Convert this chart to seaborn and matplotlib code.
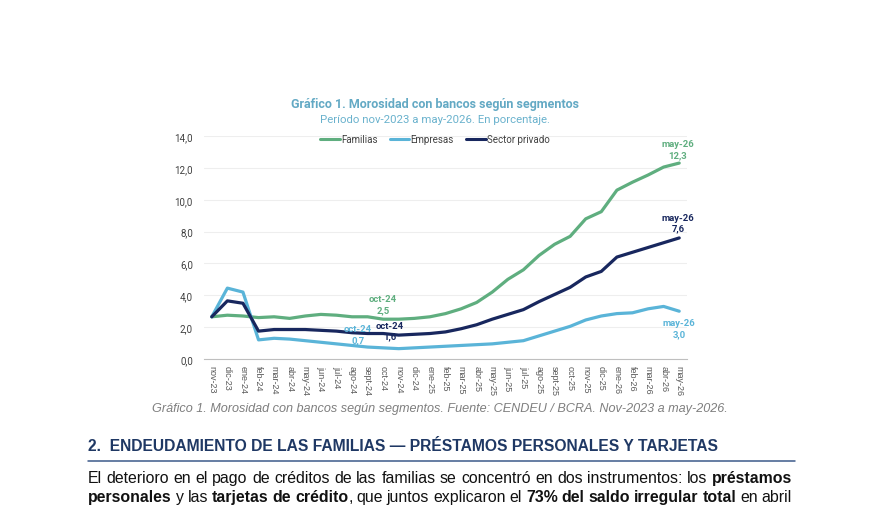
import matplotlib
matplotlib.use("Agg")
import matplotlib.pyplot as plt
from matplotlib.lines import Line2D
from matplotlib.ticker import FixedLocator, FuncFormatter
import numpy as np
import pandas as pd
import seaborn as sns

W, H = 880, 506

# datos (morosidad en %)
meses = ["nov-23", "dic-23", "ene-24", "feb-24", "mar-24", "abr-24", "may-24",
         "jun-24", "jul-24", "ago-24", "sept-24", "oct-24", "nov-24", "dic-24",
         "ene-25", "feb-25", "mar-25", "abr-25", "may-25", "jun-25", "jul-25",
         "ago-25", "sept-25", "oct-25", "nov-25", "dic-25", "ene-26", "feb-26",
         "mar-26", "abr-26", "may-26"]

familias = [2.65, 2.75, 2.7, 2.6, 2.65, 2.55, 2.7, 2.8, 2.75, 2.65, 2.65, 2.5,
            2.5, 2.55, 2.65, 2.85, 3.15, 3.55, 4.2, 5.0, 5.6, 6.5, 7.2, 7.7,
            8.8, 9.25, 10.6, 11.1, 11.55, 12.05, 12.3]
empresas = [2.65, 4.45, 4.2, 1.2, 1.3, 1.25, 1.15, 1.05, 0.95, 0.85, 0.75, 0.7,
            0.65, 0.7, 0.75, 0.8, 0.85, 0.9, 0.95, 1.05, 1.15, 1.45, 1.75, 2.05,
            2.45, 2.7, 2.85, 2.9, 3.15, 3.3, 3.0]
sector_privado = [2.65, 3.65, 3.5, 1.75, 1.85, 1.85, 1.85, 1.8, 1.75, 1.65, 1.6,
                  1.6, 1.5, 1.55, 1.6, 1.7, 1.9, 2.15, 2.5, 2.8, 3.1, 3.6, 4.05,
                  4.5, 5.15, 5.5, 6.4, 6.7, 7.0, 7.3, 7.6]

series = ["Familias", "Empresas", "Sector privado"]
colores = {"Familias": "#5fae7f", "Empresas": "#5ab4d8", "Sector privado": "#18275e"}

# etiquetas: (serie, mes, desplazamiento en puntos)
etiquetas = [("Familias", "oct-24", (0, 11)),
             ("Empresas", "oct-24", (-18, 10)),
             ("Sector privado", "oct-24", (5, 2)),
             ("Familias", "may-26", (-1, 10)),
             ("Sector privado", "may-26", (-1, 11)),
             ("Empresas", "may-26", (0, -12))]

titulo = "Gráfico 1. Morosidad con bancos según segmentos"
subtitulo = "Período nov-2023 a may-2026. En porcentaje."
pie = "Gráfico 1. Morosidad con bancos según segmentos. Fuente: CENDEU / BCRA. Nov-2023 a may-2026."
encabezado = "2.  ENDEUDAMIENTO DE LAS FAMILIAS — PRÉSTAMOS PERSONALES Y TARJETAS"
parrafo = ["El deterioro en el pago de créditos de las familias se concentró en dos instrumentos: los **préstamos**",
           "**personales** y las **tarjetas de crédito**, que juntos explicaron el **73% del saldo irregular total** en abril"]

valores = {"Familias": familias, "Empresas": empresas, "Sector privado": sector_privado}
df = pd.concat([pd.DataFrame({"idx": range(len(meses)), "mes": meses,
                              "valor": valores[s], "serie": s}) for s in series])


def fx(px):
    return px / W


def fy(py):
    return 1 - py / H


def fit_text(fig, x, y, s, target_w, **kw):
    t = fig.text(x, y, s, **kw)
    r = fig.canvas.get_renderer()
    w = t.get_window_extent(r).width
    t.set_fontsize(t.get_fontsize() * target_w / w)
    return t


def parse(line):
    words = [[]]
    for k, seg in enumerate(line.split("**")):
        bold = k % 2 == 1
        for j, p in enumerate(seg.split(" ")):
            if j > 0:
                words.append([])
            if p:
                words[-1].append((p, bold))
    return [w for w in words if w]


def make_words(fig, y_px, line, size, color):
    r = fig.canvas.get_renderer()
    items = []
    total = 0
    for word in parse(line):
        runs = []
        for txt, bold in word:
            t = fig.text(0, fy(y_px), txt, fontsize=size, color=color,
                         fontweight="bold" if bold else "normal",
                         family="Liberation Sans", va="baseline")
            w = t.get_window_extent(r).width
            runs.append((t, w))
            total += w
        items.append(runs)
    return items, total


def place_words(items, total, x0, x1):
    gap = (x1 - x0 - total) / (len(items) - 1)
    x = x0
    for runs in items:
        for t, w in runs:
            t.set_x(fx(x))
            x += w
        x += gap


sns.set_theme(style="white")
plt.rcParams["font.family"] = ["Roboto", "DejaVu Sans"]

fig = plt.figure(figsize=(W / 100, H / 100), dpi=100)
fig.patch.set_facecolor("white")
ax = fig.add_axes([fx(204), fy(360), 483 / W, 223 / H])

sns.lineplot(data=df, x="idx", y="valor", hue="serie", palette=colores,
             linewidth=2.3, legend=False, ax=ax)

ax.set_xlim(-0.5, len(meses) - 0.5)
ax.set_ylim(0, 14)
ax.set_yticks(np.arange(0, 15, 2))
ax.yaxis.set_major_formatter(FuncFormatter(lambda v, _: f"{v:.1f}".replace(".", ",")))
ax.set_xticks(range(len(meses)))
ax.set_xticklabels(meses, rotation=270, fontsize=6.5, color="#595959",
                   family="Liberation Sans")
ax.xaxis.set_minor_locator(FixedLocator(np.arange(-0.5, len(meses), 1)))
ax.tick_params(axis="x", which="major", length=0, pad=4)
ax.tick_params(axis="x", which="minor", length=4, color="#bfbfbf", width=0.8)
ax.tick_params(axis="y", length=0, pad=8, labelsize=7, labelcolor="#404040")
ax.grid(axis="y", color="#eeeeee", linewidth=0.8)
for s in ["top", "right", "left"]:
    ax.spines[s].set_visible(False)
ax.spines["bottom"].set_color("#bfbfbf")
ax.spines["bottom"].set_linewidth(0.8)
ax.set_xlabel("")
ax.set_ylabel("")

for serie, mes, off in etiquetas:
    i = meses.index(mes)
    v = valores[serie][i]
    txt = f"{mes}\n{v:.1f}".replace(".", ",")
    ax.annotate(txt, xy=(i, v), xytext=off, textcoords="offset points",
                ha="center", va="center", fontsize=6.8, fontweight="bold",
                color=colores[serie], linespacing=1.25)

handles = [Line2D([0], [0], color=colores[s], lw=2.2) for s in series]
fig.legend(handles, series, loc="center", bbox_to_anchor=(fx(435), fy(140)),
           ncol=3, frameon=False, fontsize=7, handlelength=2.0,
           handletextpad=0.1, columnspacing=1.3, labelcolor="#404040")

fit_text(fig, fx(434.5), fy(108), titulo, 287, ha="center", va="baseline",
         fontsize=9, fontweight="bold", color="#63a9c4")
fit_text(fig, fx(434.5), fy(123), subtitulo, 229, ha="center", va="baseline",
         fontsize=8, color="#6ab2cd")

fit_text(fig, fx(440), fy(412), pie, 574, ha="center", va="baseline",
         fontsize=8.5, style="italic", color="#7f7f7f", family="Liberation Sans")

fit_text(fig, fx(88), fy(451), encabezado, 633, ha="left", va="baseline",
         fontsize=10.5, fontweight="bold", color="#1f3864", family="Liberation Sans")
fig.add_artist(Line2D([fx(88), fx(795)], [fy(462), fy(462)], color="#3c5a8a", lw=1.1))

# tamaño del parrafo: que la primera linea llene el ancho con espacios normales
s0 = 10.0
items, total = make_words(fig, 483, parrafo[0], s0, "#111111")
n_gaps = len(items) - 1
size = 704 / (total / s0 + n_gaps * 0.28 * 100 / 72)
for runs in items:
    for t, w in runs:
        t.remove()
items, total = make_words(fig, 483, parrafo[0], size, "#111111")
place_words(items, total, 88, 792)
items, total = make_words(fig, 502, parrafo[1], size, "#111111")
place_words(items, total, 88, 792)

fig.savefig("out.png", dpi=100, facecolor="white")
